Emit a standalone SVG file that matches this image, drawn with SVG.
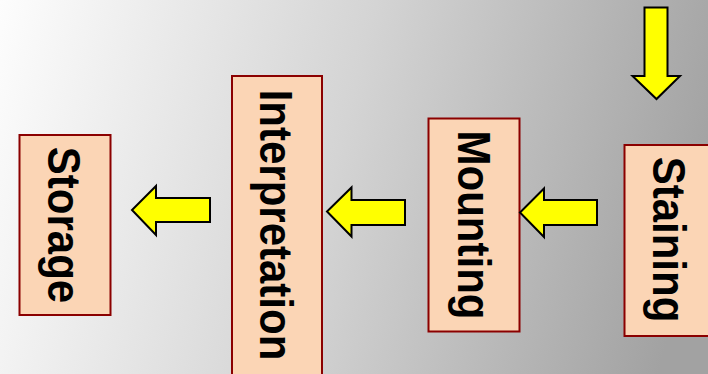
<svg xmlns="http://www.w3.org/2000/svg" width="708" height="374" viewBox="0 0 708 374">
  <defs>
    <linearGradient id="bg" gradientUnits="userSpaceOnUse" x1="0" y1="0" x2="708" y2="180">
      <stop offset="0" stop-color="#fdfdfd"/>
      <stop offset="0.5" stop-color="#d4d4d4"/>
      <stop offset="1" stop-color="#a2a2a2"/>
    </linearGradient>
    <style>
      .box { fill: #fbd5b5; stroke: #8b0000; stroke-width: 2; }
      .lbl { font-family: "Liberation Sans", Arial, sans-serif; font-weight: bold; font-size: 42px; fill: #000; text-anchor: middle; }
      .arrow { fill: #ffff00; stroke: #000; stroke-width: 2; stroke-linejoin: miter; }
    </style>
  </defs>

  <rect width="708" height="374" fill="url(#bg)"/>

  <g id="storage">
    <rect class="box" x="19.5" y="135" width="91" height="180"/>
    <text class="lbl" transform="translate(48,225) rotate(90) scale(1,1.08)">Storage</text>
  </g>

  <g id="interpretation">
    <rect class="box" x="232" y="76" width="90" height="302"/>
    <text class="lbl" transform="translate(260,225) rotate(90) scale(1,1.08)">Interpretation</text>
  </g>

  <g id="mounting">
    <rect class="box" x="428.5" y="118.5" width="91" height="213"/>
    <text class="lbl" transform="translate(458,225) rotate(90) scale(1,1.08)">Mounting</text>
  </g>

  <g id="staining">
    <rect class="box" x="624.5" y="145" width="90" height="191"/>
    <text class="lbl" transform="translate(653,239.5) rotate(90) scale(1,1.08)">Staining</text>
  </g>

  <g id="connectors">
    <!-- into Staining -->
    <polygon class="arrow" points="644.5,7.5 667.5,7.5 667.5,76 680,76 656.5,99 632.5,76 644.5,76"/>
    <!-- Staining to Mounting -->
    <polygon class="arrow" points="597,200 544,200 544,188.5 520,212.5 544,237 544,225 597,225"/>
    <!-- Mounting to Interpretation -->
    <polygon class="arrow" points="405,200 351.5,200 351.5,187.5 327,211.5 351.5,236.5 351.5,225 405,225"/>
    <!-- Interpretation to Storage -->
    <polygon class="arrow" points="210,198 156,198 156,186 132,210 156,235 156,222 210,222"/>
  </g>
</svg>
